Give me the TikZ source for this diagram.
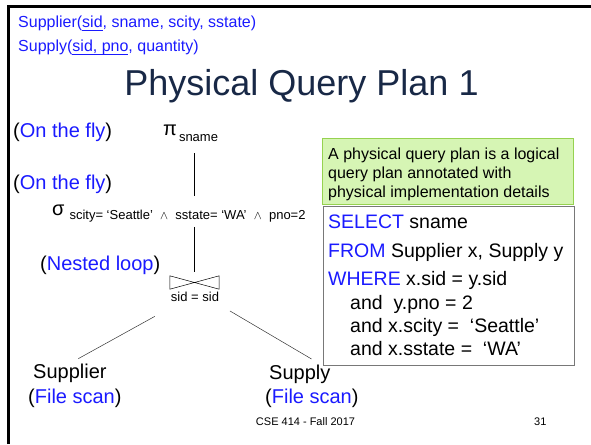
\documentclass[tikz,border=0pt]{standalone}
\usepackage{fontspec}
\setmainfont{Liberation Sans}
\definecolor{linkblue}{RGB}{26,26,255}
\definecolor{titlenavy}{RGB}{24,40,70}
\definecolor{notegreen}{RGB}{214,245,180}
\definecolor{noteedge}{RGB}{150,210,80}
\definecolor{sqledge}{RGB}{120,120,120}
\newcommand{\fsz}[1]{\fontsize{#1}{#1}\selectfont}
\newcommand{\kw}[1]{\textcolor{linkblue}{#1}}
\newcommand{\keyul}[1]{\setbox0\hbox{#1}\rlap{\rule[-3.5pt]{\wd0}{1.3pt}}\box0}

\begin{document}
\begin{tikzpicture}[x=1pt,y=-1pt]
\tikzstyle{every node}+=[inner sep=0pt]
\tikzstyle{txt}=[anchor=base west]
\tikzstyle{plan}=[black, line width=0.9pt]
\tikzstyle{leaf}=[black!80, line width=0.5pt]
\useasboundingbox (0,0) rectangle (591,444);
% slide edge
\draw [black, line width=3pt, line join=miter] (8.5,444) -- (8.5,6.5) -- (591,6.5);
% schema
\node [txt, font=\fsz{16}] (schema1) at (18,28) {\color{linkblue}Supplier(\keyul{sid}, sname, scity, sstate)};
\node [txt, font=\fsz{16}] (schema2) at (18,52) {\color{linkblue}Supply(\keyul{sid, pno}, quantity)};
\node [anchor=base, text=titlenavy, font=\fsz{36}] (title) at (301.5,95) {Physical Query Plan 1};
% plan
\node [txt, font=\fsz{20}] (fly1) at (13,137) {(\kw{On the fly})};
\node [txt, font=\fsz{20}] (proj) at (163,135) {π\hspace{2pt}\raisebox{-6pt}{\fsz{13}sname}};
\node [txt, font=\fsz{20}] (fly2) at (13,189) {(\kw{On the fly})};
\node [txt, font=\fsz{20}] (sel) at (52,215) {σ\hspace{5pt}\raisebox{-4pt}{\fsz{13}scity=~‘Seattle’~ $\wedge$ ~sstate=~‘WA’~ $\wedge$ ~pno=2}};
\node [txt, font=\fsz{20}] (nested) at (40,270) {(\kw{Nested loop})};
\node [minimum width=49pt, minimum height=13pt] (join) at (194.5,282.5) {};
\draw [black, line width=0.5pt] (join.north west) -- (join.south west) -- (join.north east) -- (join.south east) -- cycle;
\node [anchor=base, font=\fsz{13}] (joinlbl) at (195,301) {sid = sid};
\node [txt, font=\fsz{20}] (s1) at (33,378) {Supplier};
\node [txt, font=\fsz{20}] (scan1) at (28,403) {(\kw{File scan})};
\node [txt, font=\fsz{20}] (s2) at (269,379) {Supply};
\node [txt, font=\fsz{20}] (scan2) at (265,403) {(\kw{File scan})};
\draw [plan, shorten <=12pt, shorten >=8pt] (proj.south -| join.north) -- (sel.north -| join.north);
\draw [plan, shorten <=5pt, shorten >=4pt] (sel.south -| join.north) -- (join.north);
\draw [leaf, shorten <=31pt, shorten >=9.6pt] ([xshift=-13pt]joinlbl.south) -- (s1.north);
\draw [leaf, shorten <=19pt, shorten >=10.5pt] ([xshift=18.6pt]joinlbl.south) -- ([xshift=-10pt]s2.north east);
% note and query
\node [draw=noteedge, fill=notegreen, anchor=north west, minimum width=251pt, minimum height=66pt] (note) at (322,138) {};
\node [txt, font=\fsz{16}] (note1) at (328,159) {A physical query plan is a logical};
\node [txt, font=\fsz{16}] (note2) at (328,178) {query plan annotated with};
\node [txt, font=\fsz{16}] (note3) at (328,197) {physical implementation details};
\node [draw=sqledge, fill=white, anchor=north west, minimum width=251pt, minimum height=159pt] (sql) at (323,206) {};
\node [txt, font=\fsz{19.5}] (q1) at (328,228) {\kw{SELECT} sname};
\node [txt, font=\fsz{19.5}] (q2) at (328,257) {\kw{FROM} Supplier x, Supply y};
\node [txt, font=\fsz{19.5}] (q3) at (328,285) {\kw{WHERE} x.sid = y.sid};
\node [txt, font=\fsz{19.5}] (q4) at (350,309) {and\ \ y.pno = 2};
\node [txt, font=\fsz{19.5}] (q5) at (350,332) {and x.scity = ~‘Seattle’};
\node [txt, font=\fsz{19.5}] (q6) at (350,355) {and x.sstate = ~‘WA’};
% footer
\node [anchor=base, font=\fsz{11}] (foot) at (305.5,425) {CSE 414 - Fall 2017};
\node [txt, font=\fsz{11}] (pageno) at (534,425) {31};
\end{tikzpicture}
\end{document}
